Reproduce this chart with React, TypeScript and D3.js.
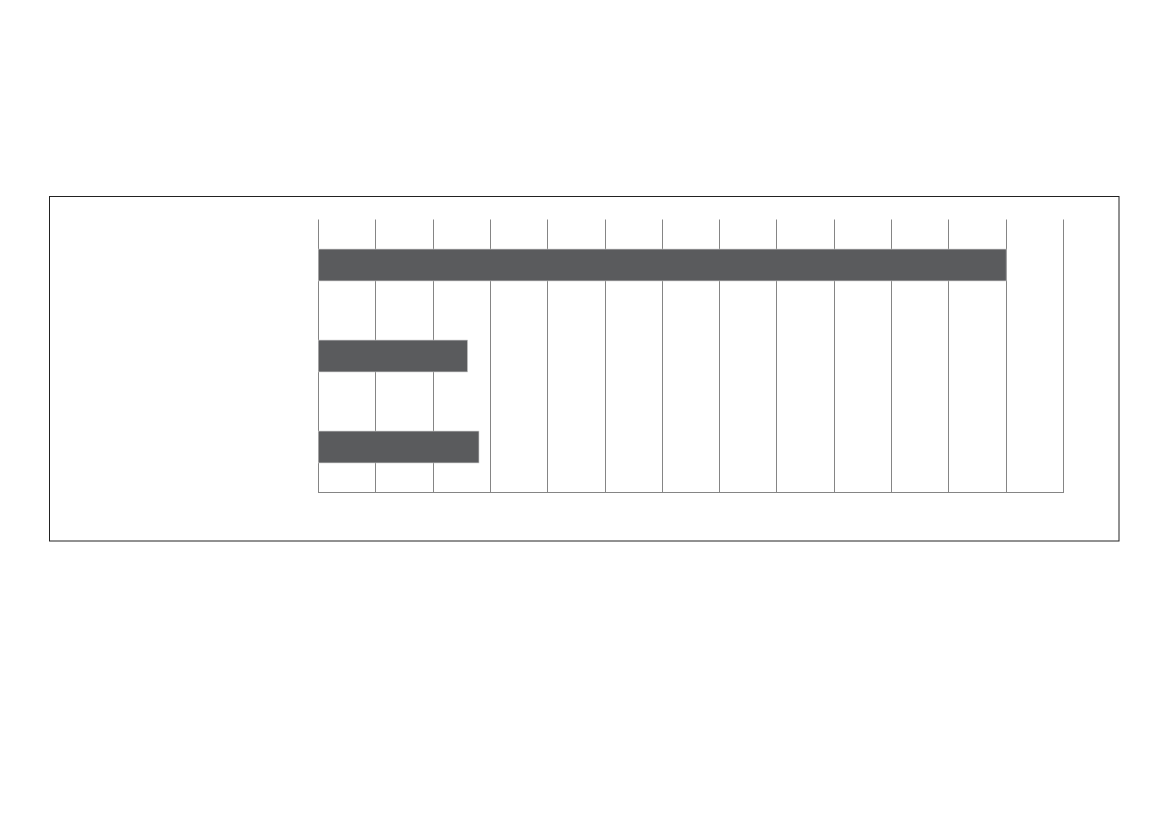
import React, { useRef, useEffect } from 'react';
import * as d3 from 'd3';

// no labels are printed in the reference; the category keys are placeholders
const categories = ['c1', 'c2', 'c3'];
const values = [12, 2.6, 2.8];
const tickValues = d3.range(0, 14);

const W = 1169;
const H = 827;

const App: React.FC = () => {
    const svgRef = useRef<SVGSVGElement | null>(null);

    useEffect(() => {
        if (!svgRef.current) return;
        const svg = d3.select(svgRef.current);
        svg.selectAll('*').remove();

        // outer frame
        svg.append('rect')
            .attr('x', 49.5)
            .attr('y', 196.5)
            .attr('width', 1069.5)
            .attr('height', 344.5)
            .attr('fill', 'none')
            .attr('stroke', '#222')
            .attr('stroke-width', 1);

        const left = 318;
        const right = 1063;
        const top = 219.5;
        const bottom = 492.5;

        const x = d3.scaleLinear().domain([0, 13]).range([left, right]);
        const y = d3
            .scaleBand<string>()
            .domain(categories)
            .range([top, bottom])
            .paddingInner(0.65)
            .paddingOuter(0.325);

        // vertical grid
        svg.append('g')
            .selectAll('line')
            .data(tickValues)
            .enter()
            .append('line')
            .attr('x1', (d) => Math.round(x(d)) + 0.5)
            .attr('x2', (d) => Math.round(x(d)) + 0.5)
            .attr('y1', top)
            .attr('y2', bottom)
            .attr('stroke', '#858585')
            .attr('stroke-width', 1);

        // baseline
        svg.append('line')
            .attr('x1', left)
            .attr('x2', right + 1)
            .attr('y1', bottom)
            .attr('y2', bottom)
            .attr('stroke', '#858585')
            .attr('stroke-width', 1);

        svg.append('g')
            .selectAll('rect')
            .data(values)
            .enter()
            .append('rect')
            .attr('x', x(0) + 0.5)
            .attr('y', (_, i) => y(categories[i])!)
            .attr('width', (d) => x(d) - x(0))
            .attr('height', y.bandwidth())
            .attr('fill', '#5a5b5d')
            .attr('stroke', '#c4c4c4')
            .attr('stroke-width', 0.6);
    }, []);

    return (
        <svg
            ref={svgRef}
            width={W}
            height={H}
            style={{ position: 'absolute', left: 0, top: 0, background: '#fff' }}
        ></svg>
    );
};

export default App;
